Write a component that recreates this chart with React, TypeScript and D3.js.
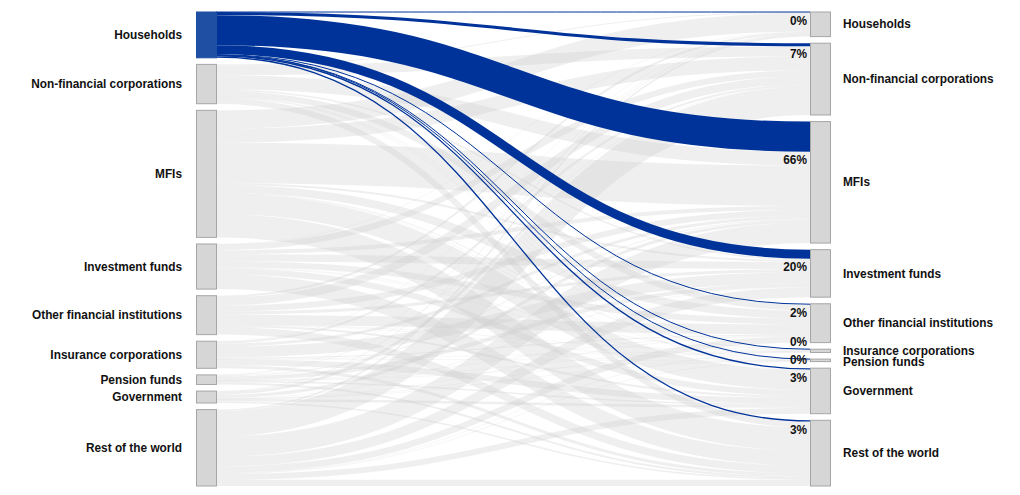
import React from "react";
import * as d3 from "d3";

// Sectors (same order on both sides)
const sectors = [
  "Households",
  "Non-financial corporations",
  "MFIs",
  "Investment funds",
  "Other financial institutions",
  "Insurance corporations",
  "Pension funds",
  "Government",
  "Rest of the world",
];

// Holdings (EUR billions) from each holding sector (left) to each issuing sector (right), in sector order
const fromHouseholds = [5, 310, 3020, 900, 90, 8, 6, 130, 130];
const fromNonFinancialCorporations = [100, 1000, 1400, 150, 600, 30, 20, 50, 600];
const fromMFIs = [1850, 1400, 4050, 200, 800, 80, 30, 2000, 2350];
const fromInvestmentFunds = [30, 600, 400, 700, 600, 50, 50, 600, 1500];
const fromOtherFinancial = [200, 800, 600, 300, 1000, 40, 20, 200, 750];
const fromInsurance = [40, 200, 300, 1100, 100, 50, 30, 600, 300];
const fromPensionFunds = [10, 50, 80, 400, 30, 10, 30, 150, 200];
const fromGovernment = [80, 300, 300, 50, 50, 10, 10, 250, 150];
const fromRestOfWorld = [155, 2550, 2050, 970, 630, 52, 54, 590, 620];

const highlighted = 0; // Households

const W = 1020;
const H = 495;
const LEFT_X = 196;
const RIGHT_X = 810;
const NODE_W = 20;
const TOP = 12;
const BOTTOM = 486;
const PAD = 6.6;

export default function App() {
  const matrix = [
    fromHouseholds,
    fromNonFinancialCorporations,
    fromMFIs,
    fromInvestmentFunds,
    fromOtherFinancial,
    fromInsurance,
    fromPensionFunds,
    fromGovernment,
    fromRestOfWorld,
  ];
  const n = sectors.length;
  const rowSums = matrix.map((r) => d3.sum(r));
  const colSums = sectors.map((_, j) => d3.sum(matrix, (r) => r[j]));
  const total = d3.sum(rowSums);

  const k = d3
    .scaleLinear()
    .domain([0, total])
    .range([0, BOTTOM - TOP - (n - 1) * PAD]);

  const layoutNodes = (sums: number[]) => {
    let y = TOP;
    return sums.map((s) => {
      const y0 = y;
      const h = k(s);
      y += h + PAD;
      return { y0, y1: y0 + h };
    });
  };
  const left = layoutNodes(rowSums);
  const right = layoutNodes(colSums);

  // link positions
  const srcOff = left.map((d) => d.y0);
  const tgtOff = right.map((d) => d.y0);
  type L = { i: number; j: number; v: number; w: number; ys: number; yt: number };
  const links: L[] = [];
  const sy: number[][] = matrix.map(() => []);
  // source offsets: ordered by target
  for (let i = 0; i < n; i++) {
    for (let j = 0; j < n; j++) {
      const w = k(matrix[i][j]);
      sy[i][j] = srcOff[i] + w / 2;
      srcOff[i] += w;
    }
  }
  // target offsets: ordered by source
  for (let j = 0; j < n; j++) {
    for (let i = 0; i < n; i++) {
      const w = k(matrix[i][j]);
      links.push({ i, j, v: matrix[i][j], w, ys: sy[i][j], yt: tgtOff[j] + w / 2 });
      tgtOff[j] += w;
    }
  }

  const linkGen = d3
    .linkHorizontal<L, [number, number]>()
    .source((d) => [LEFT_X + NODE_W, d.ys])
    .target((d) => [RIGHT_X, d.yt]);

  const grey = links.filter((l) => l.i !== highlighted);
  const blue = links.filter((l) => l.i === highlighted);

  // percent labels for highlighted links, with upward collision avoidance
  const hTotal = rowSums[highlighted];
  const pct = blue
    .slice()
    .sort((a, b) => a.j - b.j)
    .map((l) => ({
      text: `${Math.round((l.v / hTotal) * 100)}%`,
      y: l.yt + Math.max(l.w, 1) / 2 + 8,
    }));
  for (let m = pct.length - 2; m >= 0; m--) {
    pct[m].y = Math.min(pct[m].y, pct[m + 1].y - 18);
  }

  const font = "'Liberation Sans', Arial, Helvetica, sans-serif";

  return (
    <svg
      width={W}
      height={H}
      style={{ position: "absolute", left: 0, top: 0, background: "#fff" }}
      fontFamily={font}
    >
      <g fill="none">
        {grey.map((l, idx) => (
          <path
            key={`g${idx}`}
            d={linkGen(l) || ""}
            stroke="#cccccc"
            strokeOpacity={0.32}
            strokeWidth={Math.max(l.w, 0.5)}
          />
        ))}
        {blue.map((l, idx) => (
          <path
            key={`b${idx}`}
            d={linkGen(l) || ""}
            stroke="#003399"
            strokeWidth={Math.max(l.w, 1)}
          />
        ))}
      </g>
      <g>
        {left.map((d, i) => (
          <rect
            key={`l${i}`}
            x={LEFT_X + 0.5}
            y={d.y0}
            width={NODE_W}
            height={d.y1 - d.y0}
            fill={i === highlighted ? "#1f4fa3" : "#d6d6d6"}
            stroke={i === highlighted ? "#1f4fa3" : "#a6a6a6"}
            strokeWidth={1}
          />
        ))}
        {right.map((d, j) => (
          <rect
            key={`r${j}`}
            x={RIGHT_X + 0.5}
            y={d.y0}
            width={NODE_W}
            height={Math.max(d.y1 - d.y0, 1)}
            fill="#d6d6d6"
            stroke="#a6a6a6"
            strokeWidth={1}
          />
        ))}
      </g>
      <g fontSize={11.85} fontWeight="bold" fill="#111">
        {left.map((d, i) => (
          <text key={`lt${i}`} x={182} y={(d.y0 + d.y1) / 2} dy="0.35em" textAnchor="end">
            {sectors[i]}
          </text>
        ))}
        {right.map((d, j) => (
          <text key={`rt${j}`} x={843} y={(d.y0 + d.y1) / 2 + (j === 6 ? 2 : 0)} dy="0.35em" textAnchor="start">
            {sectors[j]}
          </text>
        ))}
        {pct.map((p, m) => (
          <text key={`p${m}`} x={807} y={p.y} dy="0.35em" textAnchor="end">
            {p.text}
          </text>
        ))}
      </g>
    </svg>
  );
}
